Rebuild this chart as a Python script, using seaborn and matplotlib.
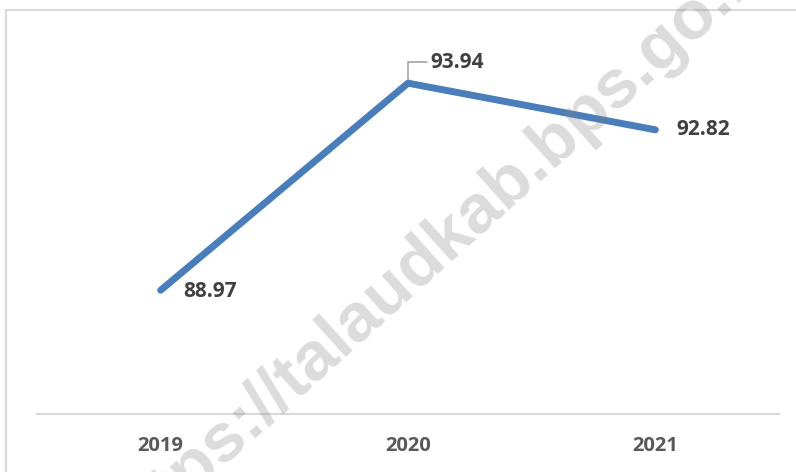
import matplotlib
matplotlib.use("Agg")
import matplotlib.pyplot as plt
from matplotlib.patches import Rectangle
import pandas as pd
import seaborn as sns

years = ["2019", "2020", "2021"]
values = [88.97, 93.94, 92.82]
label_offsets = [(23, -1), (22, 21), (21, 0)]
watermark = "https://talaudkab.bps.go.id"

df = pd.DataFrame({"year": years, "value": values})

sns.set_theme(style="white")
plt.rcParams["font.family"] = ["Open Sans", "DejaVu Sans"]

fig = plt.figure(figsize=(7.96, 4.72), dpi=100)
ax = fig.add_axes([37 / 796, 58 / 472, 742 / 796, 375 / 472])

sns.lineplot(data=df, x="year", y="value", ax=ax, color="#4A7EBB",
             linewidth=5, solid_capstyle="round", zorder=3)

ax.set_xlim(-0.5, 2.5)
ax.set_ylim(86, 95)
ax.set_xlabel("")
ax.set_ylabel("")
ax.set_yticks([])
ax.tick_params(axis="x", length=0, pad=16, labelsize=14.5, labelcolor="#595959")
for t in ax.get_xticklabels():
    t.set_fontweight("bold")

for s in ["top", "left", "right"]:
    ax.spines[s].set_visible(False)
ax.spines["bottom"].set_color("#D9D9D9")
ax.spines["bottom"].set_linewidth(1.5)

# data labels
for i, (v, off) in enumerate(zip(values, label_offsets)):
    if i == 1:
        ax.annotate(f"{v:.2f}", xy=(i, v), xytext=off, textcoords="offset pixels",
                    ha="left", va="center", fontsize=15, fontweight="bold",
                    color="#404040",
                    arrowprops=dict(arrowstyle="-", color="#A6A6A6", lw=1.2,
                                    connectionstyle="angle,angleA=0,angleB=90,rad=0",
                                    relpos=(0, 0.5), shrinkA=0, shrinkB=0),
                    zorder=2)
    else:
        ax.annotate(f"{v:.2f}", xy=(i, v), xytext=off, textcoords="offset pixels",
                    ha="left", va="center", fontsize=15, fontweight="bold",
                    color="#404040")

# outer chart border
fig.patches.append(Rectangle((6 / 796, -0.2), 1.2, 1.2 - 10 / 472,
                             transform=fig.transFigure, fill=False,
                             edgecolor="#D9D9D9", linewidth=1.5))

# watermark
fig.text(440 / 796, 1 - 244 / 472, watermark, rotation=42, ha="center", va="center",
         fontsize=50, fontweight="bold", family=["Liberation Sans", "DejaVu Sans"],
         color="#808080", alpha=0.28, zorder=10)

fig.savefig("out.png", dpi=100)
